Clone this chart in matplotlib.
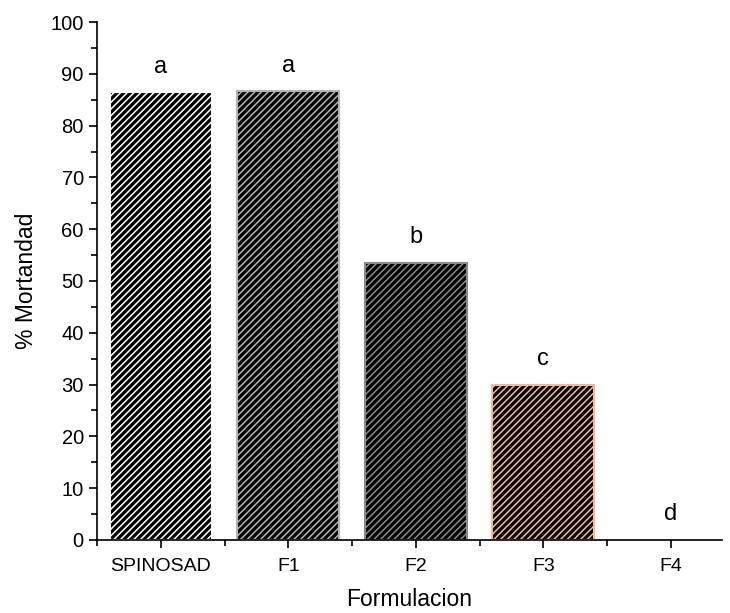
import matplotlib.pyplot as plt

plt.rcParams['font.family'] = ['Liberation Sans', 'DejaVu Sans']
plt.rcParams['hatch.linewidth'] = 1.1

categories = ["SPINOSAD", "F1", "F2", "F3", "F4"]
mortality = [86.4, 86.6, 53.4, 30.0, 0.0]
letters = ["a", "a", "b", "c", "d"]
stripe_colors = ["#ffffff", "#b4b4b4", "#8a8a8a", "#f6b994", "#ffffff"]

fig = plt.figure(figsize=(7.3, 6.13), dpi=100)
ax = fig.add_axes([0.1329, 0.1191, 0.856, 0.845])

x = list(range(len(categories)))
for xi, val, col in zip(x, mortality, stripe_colors):
    if val > 0:
        ax.bar(xi, val, width=0.8, color="black", edgecolor=col,
               hatch="/////", linewidth=1.5)

for xi, val, lab in zip(x, mortality, letters):
    ax.text(xi, val + 5.0, lab, ha="center", va="center", fontsize=17)

ax.set_xlim(-0.5, 4.4)
ax.set_ylim(0, 100)
ax.set_xticks(x)
ax.set_xticklabels(categories, fontsize=14)
ax.set_xticks([i + 0.5 for i in range(-1, 4)], minor=True)
ax.set_yticks(range(0, 101, 10))
ax.set_yticks(range(5, 100, 10), minor=True)
ax.tick_params(axis="y", labelsize=14.5, length=6, width=1.2)
ax.tick_params(axis="x", length=6, width=1.2, pad=7)
ax.tick_params(which="minor", length=4, width=1.2)

ax.spines["top"].set_visible(False)
ax.spines["right"].set_visible(False)
ax.spines["left"].set_linewidth(1.2)
ax.spines["bottom"].set_linewidth(1.2)

ax.set_xlabel("Formulacion", fontsize=16.5, labelpad=9)
ax.set_ylabel("% Mortandad", fontsize=16.5, labelpad=9)

plt.savefig("out.png", dpi=100)
